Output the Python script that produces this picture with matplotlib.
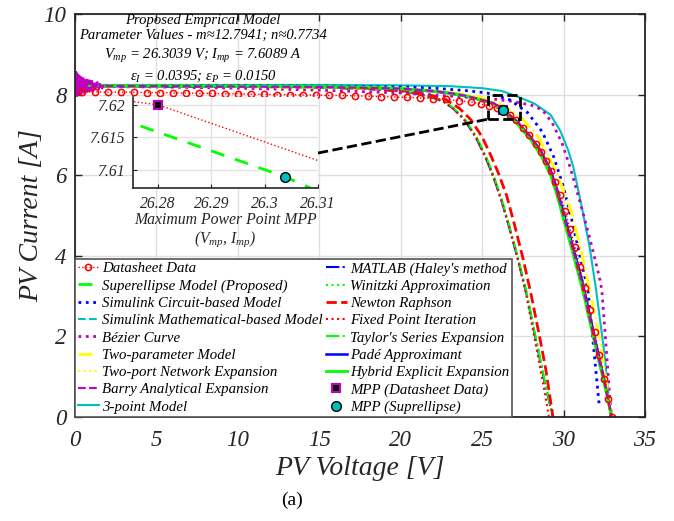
import numpy as np
import matplotlib.pyplot as plt
from matplotlib.patches import Rectangle

plt.rcParams['font.family'] = ['Liberation Serif', 'DejaVu Serif']
plt.rcParams['font.style'] = 'italic'
plt.rcParams['mathtext.fontset'] = 'custom'
plt.rcParams['mathtext.it'] = 'Liberation Serif:italic'
plt.rcParams['mathtext.rm'] = 'Liberation Serif:italic'

# ---- data ----
# datasheet points
v_ds = [0.4, 1.2, 2.0, 2.8, 3.6, 4.4, 5.2, 6.0, 6.8, 7.6, 8.4, 9.2, 10.0, 10.8, 11.6, 12.4,
        13.2, 14.0, 14.8, 15.6, 16.4, 17.2, 18.0, 18.8, 19.6, 20.4, 21.2, 22.0, 22.8, 23.6,
        24.3, 24.9, 25.4, 25.9, 26.28, 26.7, 27.1, 27.5, 27.9, 28.3, 28.6, 28.9, 29.2, 29.5,
        29.8, 30.1, 30.4, 30.7, 31.0, 31.3, 31.6, 31.9, 32.2, 32.5, 32.75, 32.95]
i_ds = [8.07, 8.07, 8.06, 8.06, 8.06, 8.05, 8.05, 8.04, 8.04, 8.03, 8.03, 8.02, 8.02, 8.01,
        8.01, 8.00, 8.00, 7.99, 7.99, 7.98, 7.98, 7.97, 7.96, 7.95, 7.94, 7.93, 7.92, 7.90,
        7.88, 7.85, 7.82, 7.77, 7.71, 7.66, 7.62, 7.50, 7.36, 7.18, 7.00, 6.78, 6.58, 6.36,
        6.10, 5.82, 5.50, 5.12, 4.66, 4.22, 3.72, 3.20, 2.66, 2.10, 1.55, 0.95, 0.45, 0.0]

# proposed superellipse / hybrid / pade (same voltage grid)
v_se = [0, 5, 10, 15, 18, 20, 22, 23, 24, 25, 25.7, 26.3039, 27.1, 27.9, 28.6, 29.2, 29.6,
        30.0, 30.5, 31.2, 32.0, 32.5, 32.95]
i_se = [8.21, 8.21, 8.20, 8.19, 8.17, 8.14, 8.08, 8.03, 7.96, 7.86, 7.783, 7.6089, 7.32,
        6.95, 6.55, 6.05, 5.55, 4.95, 4.22, 3.15, 1.70, 0.85, 0]
i_hyb = [8.22, 8.22, 8.21, 8.20, 8.18, 8.15, 8.09, 8.04, 7.97, 7.86, 7.77, 7.60, 7.30,
         6.92, 6.50, 6.00, 5.50, 4.90, 4.17, 3.10, 1.67, 0.83, 0]
i_pade = [8.21, 8.21, 8.20, 8.19, 8.17, 8.14, 8.08, 8.03, 7.96, 7.86, 7.78, 7.61, 7.34,
          6.98, 6.60, 6.12, 5.64, 5.05, 4.33, 3.27, 1.80, 0.92, 0]
i_smath = [8.21, 8.21, 8.20, 8.19, 8.17, 8.14, 8.08, 8.03, 7.96, 7.87, 7.79, 7.63, 7.36,
           7.00, 6.62, 6.15, 5.68, 5.10, 4.38, 3.30, 1.82, 0.93, 0]

# simulink circuit-based
v_sc = [0, 5, 10, 15, 20, 22, 24, 25.3, 26.7, 27.8, 28.7, 29.4, 30.0, 30.5, 31.0, 31.5,
        31.85, 32.2]
i_sc = [8.22, 8.22, 8.22, 8.21, 8.19, 8.16, 8.10, 8.04, 7.87, 7.55, 7.07, 6.45, 5.70,
        4.90, 4.00, 3.15, 1.70, 0.25]

# bezier
v_bz = [0, 5, 10, 15, 20, 23.2, 25.9, 26.9, 28.0, 28.7, 29.3, 29.9, 30.4, 31.0, 31.6,
        32.2, 32.35, 32.6, 32.85, 32.95]
i_bz = [8.20, 8.19, 8.16, 8.11, 8.04, 7.96, 7.88, 7.83, 7.74, 7.62, 7.30, 6.80, 6.20,
        5.35, 4.45, 3.47, 3.15, 1.80, 0.42, 0]

# two-parameter / two-port
v_2p = [0, 10, 20, 23, 25, 26.3, 27.5, 28.5, 29.4, 30.4, 31.0, 31.6, 32.3, 32.95]
i_2p = [8.21, 8.20, 8.15, 8.06, 7.92, 7.72, 7.38, 6.90, 6.20, 5.20, 4.25, 3.15, 1.75, 0]
i_2port = [8.21, 8.20, 8.15, 8.07, 7.93, 7.74, 7.40, 6.93, 6.25, 5.25, 4.30, 3.20, 1.78, 0]

# barry analytical (oscillates near V=0)
v_barry = [0.01, 0.04, 0.07, 0.10, 0.13, 0.16, 0.19, 0.22, 0.25, 0.28, 0.31, 0.34, 0.37,
           0.40, 0.44, 0.48, 0.52, 0.56, 0.60, 0.65, 0.70, 0.75, 0.80, 0.86, 0.92, 0.98,
           1.05, 1.12, 1.20, 1.28, 1.37, 1.46, 1.56, 1.66, 1.80, 2.0, 3.0, 5, 10, 15, 20,
           22, 23, 24, 25, 25.7, 26.3, 27.1, 27.9, 28.6, 29.2, 29.6, 30.0, 30.5, 31.2,
           32.0, 32.5, 32.95]
i_barry = [8.58, 7.96, 8.56, 7.97, 8.52, 7.98, 8.49, 7.99, 8.47, 8.00, 8.45, 8.01, 8.43,
           8.02, 8.41, 8.03, 8.40, 8.04, 8.38, 8.05, 8.37, 8.07, 8.36, 8.08, 8.35, 8.09,
           8.34, 8.10, 8.33, 8.11, 8.31, 8.13, 8.30, 8.15, 8.27, 8.21, 8.21, 8.21,
           8.20, 8.19, 8.15, 8.09, 8.04, 7.97, 7.87, 7.79, 7.63, 7.35, 6.98, 6.60, 6.10,
           5.60, 5.00, 4.28, 3.20, 1.73, 0.87, 0]

# 3-point model
v_3p = [0, 5, 10, 15, 20, 23, 25, 26.2, 27.1, 28.2, 29.2, 29.8, 30.3, 30.6, 31.1, 31.6,
        32.0, 32.5, 32.9]
i_3p = [8.24, 8.24, 8.24, 8.24, 8.23, 8.21, 8.16, 8.09, 7.96, 7.78, 7.50, 7.10, 6.60,
        6.20, 5.25, 4.22, 3.15, 1.60, 0]

# newton raphson
v_nr = [0, 5, 10, 15, 18, 20, 21, 22, 22.8, 23.6, 24.3, 25.0, 25.5, 26.0, 26.5, 27.0,
        27.5, 28.0, 28.5, 28.9, 29.35]
i_nr = [8.21, 8.21, 8.20, 8.18, 8.15, 8.10, 8.05, 7.97, 7.87, 7.66, 7.38, 6.95, 6.52,
        6.05, 5.50, 4.75, 3.95, 3.05, 2.05, 1.20, 0]

# haley / winitzki / taylor / fixed point
v_hal = [0, 5, 10, 15, 18, 20, 21, 22, 22.6, 23.2, 23.9, 24.6, 25.2, 25.7, 26.2, 26.7,
         27.2, 27.7, 28.1, 28.5, 28.9, 29.35]
i_hal = [8.21, 8.21, 8.20, 8.18, 8.14, 8.08, 8.02, 7.92, 7.83, 7.66, 7.38, 6.95, 6.45,
         5.95, 5.35, 4.65, 3.90, 3.10, 2.30, 1.52, 0.74, 0]
i_win = [8.21, 8.21, 8.20, 8.18, 8.14, 8.08, 8.02, 7.93, 7.84, 7.67, 7.40, 6.98, 6.48,
         5.98, 5.38, 4.68, 3.93, 3.13, 2.33, 1.55, 0.76, 0]
i_tay = [8.21, 8.21, 8.20, 8.18, 8.14, 8.09, 8.03, 7.94, 7.85, 7.68, 7.41, 6.99, 6.50,
         6.00, 5.40, 4.70, 3.95, 3.15, 2.35, 1.57, 0.78, 0]
v_fp = [0, 5, 10, 15, 18, 20, 21, 22, 22.6, 23.2, 23.9, 24.6, 25.2, 25.7, 26.2, 26.7,
        27.2, 27.7, 28.1, 28.5, 28.8, 29.1]
i_fp = [8.21, 8.21, 8.20, 8.18, 8.14, 8.08, 8.02, 7.92, 7.83, 7.66, 7.38, 6.95, 6.45,
        5.95, 5.35, 4.65, 3.90, 3.05, 2.20, 1.35, 0.70, 0]

# maximum power points
mpp_ds = (26.28, 7.62)
mpp_se = (26.3039, 7.6089)

zoom_box = (25.35, 27.3, 7.39, 7.99)
main_xticks = [0, 5, 10, 15, 20, 25, 30, 35]
main_yticks = [0, 2, 4, 6, 8, 10]
inset_xticks = [26.28, 26.29, 26.30, 26.31]
inset_xlabels = ['26.28', '26.29', '26.3', '26.31']
inset_yticks = [7.61, 7.615, 7.62]
inset_ylabels = ['7.61', '7.615', '7.62']

fig = plt.figure(figsize=(6.74, 5.21), dpi=100)
ax = fig.add_axes([75 / 674, 1 - 417 / 521, 570 / 674, 403 / 521])

h = {}
h['ham'], = ax.plot(v_hal, i_hal, color='b', ls='-.', lw=1.5, label="MATLAB (Haley's method")
h['win'], = ax.plot(v_hal, i_win, color='#00FF00', ls=':', lw=1.5, label='Winitzki Approximation')
h['tay'], = ax.plot(v_hal, i_tay, color='#00FF00', ls='-.', lw=1.5, label="Taylor's Series Expansion")
h['fp'], = ax.plot(v_fp, i_fp, color='r', ls=':', lw=1.5, label='Fixed Point Iteration')
h['nr'], = ax.plot(v_nr, i_nr, color='r', ls='--', lw=2, label='Newton Raphson')
h['3p'], = ax.plot(v_3p, i_3p, color='c', ls='-', lw=1.5, label='3-point Model')
h['bz'], = ax.plot(v_bz, i_bz, color='m', ls=':', lw=2, label='Bézier Curve')
h['sc'], = ax.plot(v_sc, i_sc, color='b', ls=':', lw=2, label='Simulink Circuit-based Model')
h['sm'], = ax.plot(v_se, i_smath, color='c', ls='--', lw=1.5, label='Simulink Mathematical-based Model')
h['2p'], = ax.plot(v_2p, i_2p, color='#FFFF00', ls='--', lw=2, dashes=(5, 4), label='Two-parameter Model')
h['2port'], = ax.plot(v_2p, i_2port, color='#FFFF00', ls=':', lw=1.5, label='Two-port Network Expansion')
h['pade'], = ax.plot(v_se, i_pade, color='b', ls='-', lw=1.8, label='Padé Approximant')
h['hyb'], = ax.plot(v_se, i_hyb, color='#00FF00', ls='-', lw=2, label='Hybrid Explicit Expansion')
h['se'], = ax.plot(v_se, i_se, color='#00FF00', ls='--', lw=2, dashes=(5, 4),
                   label='Superellipse Model (Proposed)')
h['barry'], = ax.plot(v_barry, i_barry, color='m', ls='--', lw=1.5, label='Barry Analytical Expansion')
h['ds'], = ax.plot(v_ds, i_ds, color='r', ls=':', lw=1, marker='o', ms=4.5, mfc='none',
                   mec='r', mew=1.1, label='Datasheet Data')
h['mppd'], = ax.plot([mpp_ds[0]], [mpp_ds[1]], ls='none', marker='s', ms=6, mfc='k', mec='m',
                     mew=1.5, label='MPP (Datasheet Data)')
h['mpps'], = ax.plot([mpp_se[0]], [mpp_se[1]], ls='none', marker='o', ms=7, mfc='c', mec='k',
                     mew=1, label='MPP (Suprellipse)')

# zoom rectangle and connector
x0, x1, y0, y1 = zoom_box
ax.add_patch(Rectangle((x0, y0), x1 - x0, y1 - y0, fill=False, ls='--', lw=2, ec='k', zorder=6))
ax.plot([14.92, x0], [6.55, y0], color='k', ls='--', lw=2, zorder=6)

ax.set_xlim(0, 35)
ax.set_ylim(0, 10)
ax.set_xticks(main_xticks, [str(t) for t in main_xticks], fontstyle='italic')
ax.set_yticks(main_yticks, [str(t) for t in main_yticks], fontstyle='italic')
ax.grid(True, color='#DFDFDF', lw=1)
ax.set_axisbelow(True)
ax.tick_params(direction='in', top=True, right=True, labelsize=16.5, colors='#262626',
               length=5, width=1)
ax.tick_params(axis='x', pad=9)
ax.tick_params(axis='y', pad=6)
for s in ax.spines.values():
    s.set_color('#262626')
    s.set_linewidth(1.3)
ax.set_xlabel('PV Voltage [V]', fontsize=20, color='#262626', labelpad=4)
ax.set_ylabel('PV Current [A]', fontsize=20, color='#262626', labelpad=0)

order = ['ds', 'se', 'sc', 'sm', 'bz', '2p', '2port', 'barry', '3p',
         'ham', 'win', 'nr', 'fp', 'tay', 'pade', 'hyb', 'mppd', 'mpps']
leg = ax.legend([h[k] for k in order], [h[k].get_label() for k in order], ncol=2,
                loc='lower left', bbox_to_anchor=(0, 0), borderaxespad=0, fontsize=10.7,
                handlelength=1.4, handletextpad=0.2, columnspacing=0.25, labelspacing=0.26,
                borderpad=0.2, fancybox=False, framealpha=1, edgecolor='#555555')
leg.get_frame().set_linewidth(1.2)

# parameter text block
tx = 0.2246
ax.text(tx, 0.984, 'Proposed Emprical Model', transform=ax.transAxes, ha='center', va='center',
        fontsize=10.5, zorder=7)
ax.text(tx, 0.946, 'Parameter Values - m≈12.7941; n≈0.7734', transform=ax.transAxes,
        ha='center', va='center', fontsize=10.5, zorder=7)
ax.text(tx, 0.897, r'$V_{mp}$ = 26.3039 V; $I_{mp}$ = 7.6089 A', transform=ax.transAxes,
        ha='center', va='center', fontsize=10.5, zorder=7)
ax.text(tx, 0.846, r'$\epsilon_I$ = 0.0395; $\epsilon_P$ = 0.0150', transform=ax.transAxes,
        ha='center', va='center', fontsize=10.5, zorder=7)

# inset
axi = fig.add_axes([133 / 674, 1 - 188 / 521, 185 / 674, 91 / 521])
axi.plot(v_ds, i_ds, color='r', ls=':', lw=1)
axi.plot(v_se, i_se, color='#00FF00', ls='--', lw=2, dashes=(5, 4))
axi.plot([mpp_ds[0]], [mpp_ds[1]], ls='none', marker='s', ms=6, mfc='k', mec='m', mew=1.5)
axi.plot([mpp_se[0]], [mpp_se[1]], ls='none', marker='o', ms=7, mfc='c', mec='k', mew=1)
axi.set_xlim(26.2753, 26.31)
axi.set_ylim(7.6072, 7.6212)
axi.set_xticks(inset_xticks)
axi.set_xticklabels(inset_xlabels, fontstyle='italic')
axi.set_yticks(inset_yticks)
axi.set_yticklabels(inset_ylabels, fontstyle='italic')
axi.grid(True, color='#E3E3E3', lw=1)
axi.set_axisbelow(True)
axi.spines['top'].set_visible(False)
axi.spines['right'].set_visible(False)
for s in ['left', 'bottom']:
    axi.spines[s].set_color('#262626')
    axi.spines[s].set_linewidth(1.2)
axi.tick_params(direction='in', labelsize=11.3, colors='#262626', length=3, pad=6)
axi.set_xlabel('Maximum Power Point MPP\n' + r'($V_{mp}$, $I_{mp}$)', fontsize=11.3,
               color='#262626', labelpad=0, linespacing=1.05)

fig.text(292 / 674, 1 - 500 / 521, '(a)', ha='center', va='center', fontsize=14,
         style='normal', color='k')

fig.savefig('out.png', dpi=100)
